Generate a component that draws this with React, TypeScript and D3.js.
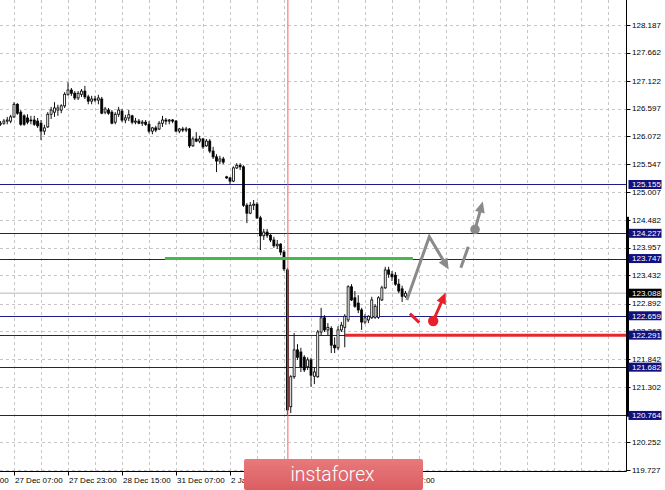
import React from 'react';
import * as d3 from 'd3';

// OHLC candles (H1): [open, high, low, close]
const candles: [number, number, number, number][] = [
  [126.30, 126.36, 126.27, 126.32], [126.32, 126.40, 126.29, 126.36], [126.36, 126.44, 126.30, 126.38],
  [126.36, 126.48, 126.32, 126.44], [126.44, 126.72, 126.42, 126.68], [126.68, 126.70, 126.48, 126.51],
  [126.53, 126.57, 126.27, 126.30], [126.46, 126.49, 126.27, 126.30], [126.42, 126.49, 126.30, 126.34],
  [126.38, 126.46, 126.30, 126.37], [126.38, 126.46, 126.27, 126.30], [126.36, 126.42, 126.23, 126.27],
  [126.32, 126.38, 126.00, 126.17], [126.17, 126.29, 126.10, 126.23], [126.25, 126.53, 126.23, 126.49],
  [126.49, 126.63, 126.40, 126.57], [126.53, 126.72, 126.44, 126.61], [126.57, 126.67, 126.46, 126.61],
  [126.57, 126.68, 126.51, 126.65], [126.65, 126.91, 126.61, 126.87], [126.87, 127.10, 126.84, 126.95],
  [126.95, 126.99, 126.84, 126.89], [126.89, 126.93, 126.76, 126.80], [126.80, 126.93, 126.76, 126.89],
  [126.87, 126.97, 126.82, 126.93], [126.93, 127.03, 126.78, 126.82], [126.82, 126.86, 126.68, 126.74],
  [126.74, 126.84, 126.68, 126.78], [126.78, 126.84, 126.72, 126.76], [126.76, 126.86, 126.68, 126.80],
  [126.78, 126.82, 126.49, 126.51], [126.53, 126.63, 126.49, 126.59], [126.57, 126.61, 126.48, 126.51],
  [126.53, 126.57, 126.30, 126.32], [126.34, 126.53, 126.30, 126.49], [126.49, 126.63, 126.44, 126.57],
  [126.55, 126.59, 126.34, 126.38], [126.38, 126.48, 126.32, 126.42], [126.42, 126.57, 126.36, 126.48],
  [126.46, 126.48, 126.30, 126.34], [126.34, 126.42, 126.30, 126.36], [126.36, 126.40, 126.30, 126.32],
  [126.32, 126.38, 126.27, 126.34], [126.34, 126.38, 126.27, 126.30], [126.30, 126.36, 126.13, 126.17],
  [126.17, 126.25, 126.11, 126.23], [126.23, 126.27, 126.15, 126.19], [126.21, 126.36, 126.19, 126.32],
  [126.32, 126.46, 126.25, 126.38], [126.38, 126.42, 126.29, 126.36], [126.36, 126.40, 126.30, 126.38],
  [126.38, 126.40, 126.32, 126.36], [126.36, 126.38, 126.15, 126.17], [126.17, 126.23, 126.13, 126.21],
  [126.21, 126.25, 126.15, 126.19], [126.19, 126.25, 126.15, 126.21], [126.21, 126.23, 125.85, 125.89],
  [125.89, 126.06, 125.87, 126.02], [126.02, 126.15, 125.96, 125.98], [125.98, 126.08, 125.94, 126.02],
  [126.02, 126.04, 125.83, 125.87], [125.89, 126.02, 125.87, 125.98], [125.98, 126.02, 125.75, 125.79],
  [125.79, 125.87, 125.64, 125.68], [125.68, 125.73, 125.39, 125.60], [125.60, 125.70, 125.54, 125.64],
  [125.64, 125.68, 125.54, 125.58], [125.30, 125.32, 125.26, 125.28], [125.28, 125.30, 125.16, 125.22],
  [125.22, 125.50, 125.20, 125.47], [125.47, 125.56, 125.45, 125.52], [125.52, 125.56, 125.43, 125.49],
  [125.49, 125.52, 124.73, 124.76], [124.76, 124.80, 124.42, 124.61], [124.61, 124.82, 124.59, 124.76],
  [124.76, 124.86, 124.67, 124.78], [124.78, 124.82, 124.50, 124.52], [124.52, 124.56, 123.91, 124.18],
  [124.18, 124.31, 124.10, 124.25], [124.25, 124.31, 124.14, 124.19], [124.19, 124.21, 124.06, 124.10],
  [124.10, 124.16, 123.95, 123.99], [123.99, 124.10, 123.93, 124.02], [124.02, 124.04, 123.81, 123.87],
  [123.87, 123.91, 123.51, 123.55], [123.53, 123.57, 120.764, 120.87], [120.93, 121.53, 120.81, 121.50],
  [121.50, 122.33, 121.46, 122.01], [122.01, 122.12, 121.82, 121.87], [121.97, 122.05, 121.59, 121.69],
  [121.87, 121.91, 121.59, 121.63], [121.69, 121.87, 121.63, 121.82], [121.82, 121.86, 121.31, 121.53],
  [121.51, 121.67, 121.36, 121.59], [121.50, 122.39, 121.48, 122.35], [122.35, 122.81, 122.29, 122.62],
  [122.62, 122.67, 122.35, 122.39], [122.39, 122.52, 122.29, 122.44], [122.42, 122.46, 121.95, 122.10],
  [122.10, 122.25, 121.95, 122.05], [122.05, 122.46, 122.01, 122.39], [122.39, 122.54, 122.35, 122.48],
  [122.44, 122.69, 122.06, 122.65], [122.58, 123.24, 122.54, 123.21], [123.21, 123.26, 122.94, 122.96],
  [123.00, 123.13, 122.81, 122.84], [122.90, 123.05, 122.71, 122.77], [122.77, 122.81, 122.39, 122.54],
  [122.54, 122.69, 122.50, 122.62], [122.58, 122.67, 122.52, 122.65], [122.62, 123.02, 122.60, 122.96],
  [122.63, 122.88, 122.60, 122.84], [122.63, 123.03, 122.60, 123.00], [122.96, 123.23, 122.94, 123.19],
  [123.19, 123.59, 123.17, 123.53], [123.53, 123.59, 123.38, 123.45], [123.45, 123.51, 123.32, 123.40],
  [123.43, 123.49, 123.23, 123.26], [123.26, 123.36, 123.09, 123.13], [123.17, 123.23, 122.92, 123.03],
  [123.03, 123.13, 123.00, 123.088],
];

// price axis ticks
const priceTicks = [128.187, 127.662, 127.122, 126.597, 126.072, 125.547, 125.007, 124.482, 123.957,
  123.432, 122.892, 122.367, 121.842, 121.302, 120.777, 120.252, 119.727];

// horizontal support / resistance levels
const levels = [125.155, 124.227, 123.747, 122.659, 122.291, 121.682, 120.764];
const currentPrice = 123.088;

// time axis labels (bar index, text); the ones fully under the logo are not shown
const timeLabelBars = [-12, 4, 20, 36, 52, 68, 116];
const timeLabelTexts = ['26 Dec 15:00', '27 Dec 07:00', '27 Dec 23:00', '28 Dec 15:00', '31 Dec 07:00',
  '2 Jan 07:00', '4 Jan 07:00'];

const separatorBar = 85.15;
const rightRange = [124.54, 120.74];

// drawn objects (bar index, price)
const greenLine = { price: 123.747, from: 48.7, to: 122.2 };
const redLine = { price: 122.291, from: 102.1 };
const grayZigzag: [number, number][] = [[120.4, 122.96], [127.05, 124.16], [132.8, 123.54]];
const grayDash: [number, number][] = [[136.4, 123.57], [138.6, 123.97]];
const grayDot: [number, number] = [140.6, 124.30];
const grayTip: [number, number] = [142.9, 124.83];
const redDash: [number, number][] = [[121.3, 122.70], [124.1, 122.53]];
const redDot: [number, number] = [128.2, 122.56];
const redTip: [number, number] = [131.9, 123.10];

const W = 665, H = 490;
const plotRight = 626.5, plotBottom = 471.5;
const FONT = '"Liberation Sans", Arial, sans-serif';

function arrowHead(from: [number, number], to: [number, number], len: number, half: number) {
  const dx = to[0] - from[0], dy = to[1] - from[1];
  const d = Math.hypot(dx, dy) || 1;
  const ux = dx / d, uy = dy / d;
  const bx = to[0] - ux * len, by = to[1] - uy * len;
  const pts = [
    [to[0], to[1]],
    [bx - uy * half, by + ux * half],
    [bx + uy * half, by - ux * half],
  ];
  return { points: pts.map(p => p.join(',')).join(' '), base: [bx + ux * 1, by + uy * 1] as [number, number] };
}

export default function App() {
  const x = d3.scaleLinear().domain([0, 180]).range([0.5, 608]);
  const y = d3.scaleLinear().domain([119.727, 128.187]).range([470, 25]);
  const P = (d: [number, number]): [number, number] => [x(d[0]), y(d[1])];

  const gridBars = d3.range(4, 184, 8);

  const zz = grayZigzag.map(P);
  const zzHead = arrowHead(zz[1], zz[2], 11, 5);
  const zzPath = d3.line()([zz[0], zz[1], zzHead.base]) || '';
  const gd = grayDash.map(P);
  const gDot = P(grayDot);
  const gTip = P(grayTip);
  const gHead = arrowHead(gDot, gTip, 11, 5);
  const rd = redDash.map(P);
  const rDot = P(redDot);
  const rTip = P(redTip);
  const rHead = arrowHead(rDot, rTip, 11, 5);

  return (
    <svg width={W} height={H} style={{ position: 'absolute', left: 0, top: 0, background: '#fff' }}
      xmlns="http://www.w3.org/2000/svg">
      <defs>
        <clipPath id="plot"><rect x={0} y={0} width={plotRight} height={plotBottom} /></clipPath>
        <linearGradient id="logoGrad" x1="0" y1="0" x2="0" y2="1">
          <stop offset="0" stopColor="#e8797b" />
          <stop offset="1" stopColor="#da5e62" />
        </linearGradient>
      </defs>
      <rect x={0} y={0} width={W} height={H} fill="#fff" />
      <g clipPath="url(#plot)">
        {gridBars.map(b => (
          <line key={'gv' + b} x1={Math.round(x(b)) + 0.5} x2={Math.round(x(b)) + 0.5} y1={0} y2={plotBottom}
            stroke="#c6c6c6" strokeWidth={1} strokeDasharray="3,3" />
        ))}
        {priceTicks.map(t => (
          <line key={'gh' + t} x1={0} x2={plotRight} y1={Math.round(y(t)) + 0.5} y2={Math.round(y(t)) + 0.5}
            stroke="#c6c6c6" strokeWidth={1} strokeDasharray="3,3" />
        ))}
        <line x1={0} x2={plotRight} y1={y(currentPrice)} y2={y(currentPrice)} stroke="#cfcfcf" strokeWidth={1.6} />
        {levels.map(l => (
          <line key={'lv' + l} x1={0} x2={plotRight} y1={Math.round(y(l)) + 0.5} y2={Math.round(y(l)) + 0.5}
            stroke="#1c1c8a" strokeWidth={1} />
        ))}
        {candles.map(([o, h, l, c], i) => {
          const cx = x(i);
          const up = c >= o;
          const top = y(Math.max(o, c));
          const bot = y(Math.min(o, c));
          return (
            <g key={'c' + i}>
              <line x1={cx} x2={cx} y1={y(h)} y2={y(l)} stroke="#111" strokeWidth={1} />
              <rect x={cx - 1} y={top} width={2} height={Math.max(bot - top, 0.8)}
                fill={up ? '#fff' : '#000'} stroke="#000" strokeWidth={0.8} />
            </g>
          );
        })}
        <line x1={x(separatorBar)} x2={x(separatorBar)} y1={0} y2={plotBottom} stroke="#ff5a5a" strokeWidth={1} />
        <line x1={x(greenLine.from)} x2={x(greenLine.to)} y1={y(greenLine.price)} y2={y(greenLine.price)}
          stroke="#45b94c" strokeWidth={3} />
        <line x1={x(redLine.from)} x2={plotRight} y1={y(redLine.price)} y2={y(redLine.price)}
          stroke="#e8272d" strokeWidth={3} />
        <path d={zzPath} fill="none" stroke="#8a8a8a" strokeWidth={3} strokeLinejoin="miter" />
        <polygon points={zzHead.points} fill="#8a8a8a" />
        <line x1={gd[0][0]} y1={gd[0][1]} x2={gd[1][0]} y2={gd[1][1]} stroke="#8a8a8a" strokeWidth={3} />
        <circle cx={gDot[0]} cy={gDot[1]} r={4.8} fill="#8a8a8a" />
        <line x1={gDot[0]} y1={gDot[1]} x2={gHead.base[0]} y2={gHead.base[1]} stroke="#8a8a8a" strokeWidth={3} />
        <polygon points={gHead.points} fill="#8a8a8a" />
        <line x1={rd[0][0]} y1={rd[0][1]} x2={rd[1][0]} y2={rd[1][1]} stroke="#e8202a" strokeWidth={3} />
        <circle cx={rDot[0]} cy={rDot[1]} r={5.2} fill="#e8202a" />
        <line x1={rDot[0]} y1={rDot[1]} x2={rHead.base[0]} y2={rHead.base[1]} stroke="#e8202a" strokeWidth={3} />
        <polygon points={rHead.points} fill="#e8202a" />
      </g>
      <line x1={plotRight} x2={plotRight} y1={0} y2={plotBottom} stroke="#000" strokeWidth={1} />
      <line x1={0} x2={plotRight} y1={plotBottom} y2={plotBottom} stroke="#000" strokeWidth={1} />
      <line x1={plotRight + 1} x2={plotRight + 1} y1={y(rightRange[0])} y2={y(rightRange[1])} stroke="#000" strokeWidth={3} />
      {priceTicks.map(t => (
        <g key={'pt' + t}>
          <line x1={plotRight} x2={plotRight + 4} y1={Math.round(y(t)) + 0.5} y2={Math.round(y(t)) + 0.5} stroke="#000" />
          <text x={632} y={y(t)} dy="0.35em" fontSize={8} fontFamily={FONT} fill="#000">{t.toFixed(3)}</text>
        </g>
      ))}
      {levels.map(l => (
        <g key={'lb' + l}>
          <rect x={628.5} y={y(l) - 4.5} width={33} height={9} fill="#10107e" />
          <text x={632} y={y(l)} dy="0.35em" fontSize={8} fontFamily={FONT} fill="#fff">{l.toFixed(3)}</text>
        </g>
      ))}
      <rect x={628.5} y={y(currentPrice) - 4.5} width={33} height={9} fill="#000" />
      <text x={632} y={y(currentPrice)} dy="0.35em" fontSize={8} fontFamily={FONT} fill="#fff">{currentPrice.toFixed(3)}</text>
      {timeLabelBars.map((b, i) => (
        <g key={'tl' + b}>
          <line x1={Math.round(x(b)) + 0.5} x2={Math.round(x(b)) + 0.5} y1={plotBottom} y2={plotBottom + 4} stroke="#000" />
          <text x={x(b) + 1} y={483} fontSize={8} fontFamily={FONT} fill="#000">{timeLabelTexts[i]}</text>
        </g>
      ))}
      <rect x={244} y={459} width={179} height={31} rx={2} fill="url(#logoGrad)" />
      <text x={332.5} y={481} textAnchor="middle" fontSize={20} fontWeight={300}
        fontFamily='Roboto, "Open Sans", sans-serif' fill="#fff" textLength={84} lengthAdjust="spacingAndGlyphs">instaforex</text>
    </svg>
  );
}
